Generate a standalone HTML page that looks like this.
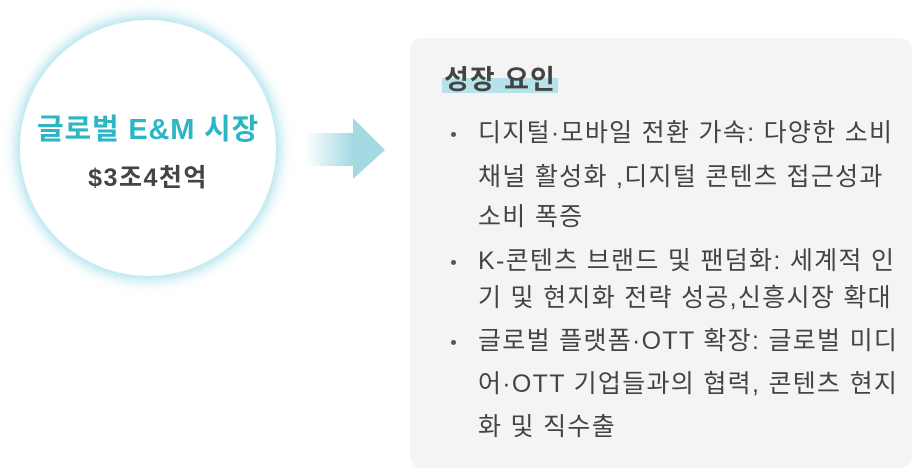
<!DOCTYPE html>
<html><head><meta charset="utf-8"><style>
body{margin:0;width:912px;height:470px;background:#fff;position:relative;overflow:hidden;font-family:"Liberation Sans","Noto Sans CJK KR",sans-serif;}
.circle{position:absolute;left:20px;top:20px;width:256px;height:256px;border-radius:50%;background:#fff;box-shadow:0 0 12px 4px rgba(100,200,220,0.55);}
.t1{position:absolute;left:0;width:296px;top:106px;text-align:center;font-size:29px;letter-spacing:0.8px;font-weight:bold;color:#2bb5c5;}
.t2{position:absolute;left:0;width:296px;top:158px;text-align:center;font-size:25px;letter-spacing:1.5px;font-weight:bold;color:#444;}
.panel{position:absolute;left:410px;top:38px;width:502px;height:430px;border-radius:12px;background:#f4f4f4;}
.hl{position:absolute;left:442px;top:78px;width:116px;height:15px;background:#b6e2ea;}
.title{position:absolute;left:444px;top:58px;font-size:27px;font-weight:bold;color:#444;letter-spacing:1px;}
.l{position:absolute;left:478px;font-size:25px;letter-spacing:1.3px;color:#444;white-space:nowrap;line-height:30px;}
.b{position:absolute;left:451px;width:5px;height:5px;border-radius:50%;background:#555;}
</style></head><body>
<div class="circle"></div>
<div class="t1">글로벌 E&amp;M 시장</div>
<div class="t2">$3조4천억</div>
<svg style="position:absolute;left:300px;top:110px" width="90" height="75">
<defs><linearGradient id="g" x1="0" x2="1"><stop offset="0" stop-color="#a5d9e2" stop-opacity="0"/><stop offset="0.6" stop-color="#a5d9e2"/></linearGradient></defs>
<polygon points="5,23 53,23 53,8 85,40 53,69 53,56 5,56" fill="url(#g)"/>
</svg>
<div class="panel"></div>
<div class="hl"></div>
<div class="title">성장 요인</div>
<div class="b" style="top:132px"></div>
<div class="l" style="top:118px">디지털·모바일 전환 가속: 다양한 소비</div>
<div class="l" style="top:162px">채널 활성화 ,디지털 콘텐츠 접근성과</div>
<div class="l" style="top:202px">소비 폭증</div>
<div class="b" style="top:260px"></div>
<div class="l" style="top:246px">K-콘텐츠 브랜드 및 팬덤화: 세계적 인</div>
<div class="l" style="top:283px">기 및 현지화 전략 성공,신흥시장 확대</div>
<div class="b" style="top:340px"></div>
<div class="l" style="top:326px">글로벌 플랫폼·OTT 확장: 글로벌 미디</div>
<div class="l" style="top:369px">어·OTT 기업들과의 협력, 콘텐츠 현지</div>
<div class="l" style="top:412px">화 및 직수출</div>
</body></html>
